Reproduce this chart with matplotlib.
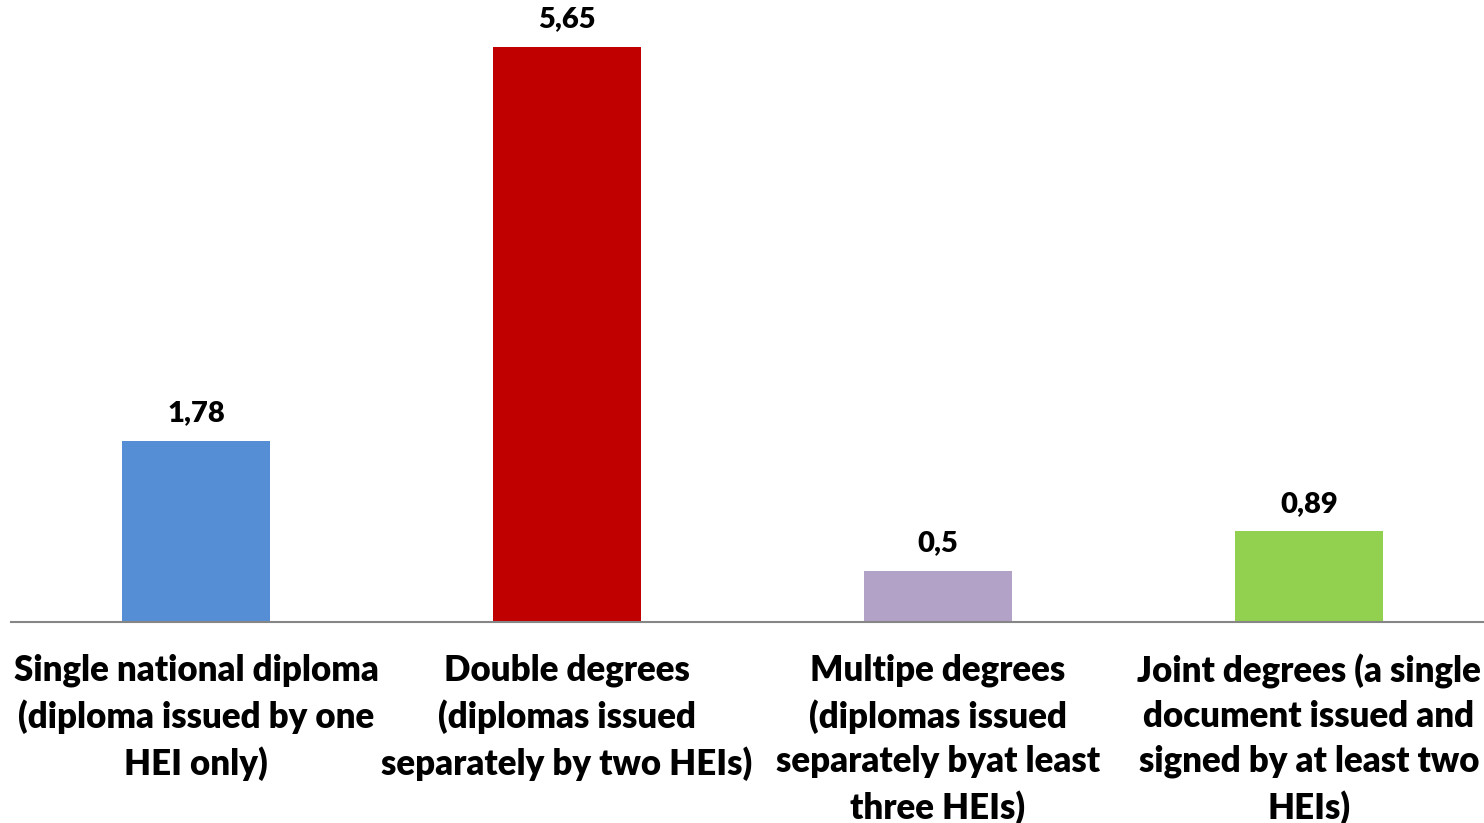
import matplotlib
matplotlib.use("Agg")
import matplotlib.pyplot as plt

categories = [
    "Single national diploma\n(diploma issued by one\nHEI only)",
    "Double degrees\n(diplomas issued\nseparately by two HEIs)",
    "Multipe degrees\n(diplomas issued\nseparately byat least\nthree HEIs)",
    "Joint degrees (a single\ndocument issued and\nsigned by at least two\nHEIs)",
]
values = [1.78, 5.65, 0.5, 0.89]
value_labels = ["1,78", "5,65", "0,5", "0,89"]
colors = ["#558ED5", "#C00000", "#B3A2C7", "#92D050"]

plt.rcParams["font.family"] = ["Lato", "DejaVu Sans"]

W, H = 1484, 823
fig = plt.figure(figsize=(W / 100, H / 100), dpi=100)
left = 10.5 / W
bottom = (H - 622) / H
height = 611 / H
ax = fig.add_axes([left, bottom, 1.0, height])

x = list(range(len(values)))
bars = ax.bar(x, values, width=0.40, color=colors, zorder=2)
ax.set_xlim(-0.5, 3.5)
ax.set_ylim(0, 6.0)

for rect, lab in zip(bars, value_labels):
    ax.annotate(lab, (rect.get_x() + rect.get_width() / 2, rect.get_height()),
                xytext=(0, 10.5), textcoords="offset points",
                ha="center", va="bottom", fontsize=21, fontweight="heavy",
                color="#000000")

ax.set_xticks(x)
ax.set_xticklabels(categories, fontsize=25, fontweight="heavy", linespacing=1.42)
ax.tick_params(axis="x", length=0, pad=23)
ax.set_yticks([])
for s in ["top", "right", "left"]:
    ax.spines[s].set_visible(False)
ax.spines["bottom"].set_color("#868686")
ax.spines["bottom"].set_linewidth(1.5)

fig.savefig("out.png", dpi=100)
